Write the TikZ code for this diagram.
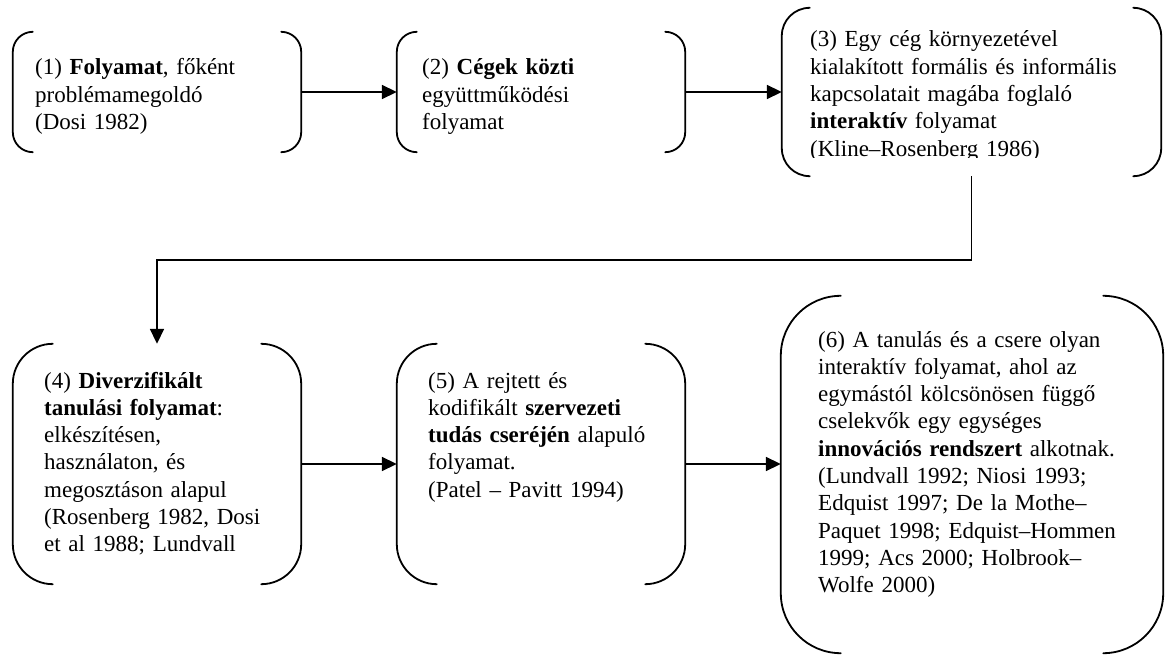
\documentclass[tikz,border=0pt]{standalone}
\usepackage{fontspec}
\setmainfont{Liberation Serif}
\usetikzlibrary{arrows.meta}

\tikzset{
  box/.style={rectangle, inner sep=0pt, minimum width=#1},
  boxtext/.style={anchor=base west, inner sep=0pt, text width=390pt, align=left,
    font=\fontsize{23pt}{27.3pt}\selectfont},
  bracket/.style={line width=1.8pt, line cap=round},
  conn/.style={line width=1.8pt, -{Triangle[length=15pt,width=14pt]}},
}

% left and right round brackets of a box node: #1 node name, #2 corner radius
\newcommand\bracketpair[2]{%
  \draw[bracket] ([xshift=#2]#1.north west) arc[start angle=90,end angle=180,radius=#2]
    -- ([yshift=#2]#1.south west) arc[start angle=180,end angle=270,radius=#2];
  \draw[bracket] ([xshift=-#2]#1.north east) arc[start angle=90,end angle=0,radius=#2]
    -- ([yshift=#2]#1.south east) arc[start angle=0,end angle=-90,radius=#2];
}

\begin{document}
\begin{tikzpicture}[x=1pt,y=1pt]
  \fill[white] (0,0) rectangle (1165,-655);
  \useasboundingbox (0,0) rectangle (1165,-655);

  % box frames
  \node[box=288pt, minimum height=120pt] (b1) at (157,-92) {};
  \node[box=288pt, minimum height=120pt] (b2) at (541,-92) {};
  \node[box=379pt, minimum height=168pt] (b3) at (971.5,-92) {};
  \node[box=288pt, minimum height=240pt] (b4) at (157,-464) {};
  \node[box=288pt, minimum height=240pt] (b5) at (541,-464) {};
  \node[box=382pt, minimum height=357pt] (b6) at (972,-474.5) {};

  \bracketpair{b1}{20pt}
  \bracketpair{b2}{20pt}
  \bracketpair{b3}{28pt}
  \bracketpair{b4}{40pt}
  \bracketpair{b5}{40pt}
  \bracketpair{b6}{60pt}

  % texts
  \node[boxtext] (t1) at (35,-75) {(1) \textbf{Folyamat}, főként\\
    problémamegoldó\\
    (Dosi 1982)};
  \node[boxtext] (t2) at (422,-75) {(2) \textbf{Cégek közti}\\
    együttműködési\\
    folyamat};
  \begin{scope}
    \clip (770,0) rectangle (1165,-158);
    \node[boxtext] (t3) at (810,-47) {(3) Egy cég környezetével\\
      kialakított formális és informális\\
      kapcsolatait magába foglaló\\
      \textbf{interaktív} folyamat\\
      (Kline–Rosenberg 1986)};
  \end{scope}
  \node[boxtext] (t4) at (44,-388) {(4) \textbf{Diverzifikált}\\
    \textbf{tanulási folyamat}:\\
    elkészítésen,\\
    használaton, és\\
    megosztáson alapul\\
    (Rosenberg 1982, Dosi\\
    et al 1988; Lundvall};
  \node[boxtext] (t5) at (428,-388) {(5) A rejtett és\\
    kodifikált \textbf{szervezeti}\\
    \textbf{tudás cseréjén} alapuló\\
    folyamat.\\
    (Patel – Pavitt 1994)};
  \node[boxtext] (t6) at (818,-347) {(6) A tanulás és a csere olyan\\
    interaktív folyamat, ahol az\\
    egymástól kölcsönösen függő\\
    cselekvők egy egységes\\
    \textbf{innovációs rendszert} alkotnak.\\
    (Lundvall 1992; Niosi 1993;\\
    Edquist 1997; De la Mothe–\\
    Paquet 1998; Edquist–Hommen\\
    1999; Acs 2000; Holbrook–\\
    Wolfe 2000)};

  % connectors
  \draw[conn] (b1.east) -- (b2.west);
  \draw[conn] (b2.east) -- (b3.west);
  \draw[conn] (b3.south) -- ++(0,-84) -| (b4.north);
  \draw[conn] (b4.east) -- (b5.west);
  \draw[conn] (b5.east) -- (b5.east -| b6.west);
\end{tikzpicture}
\end{document}
